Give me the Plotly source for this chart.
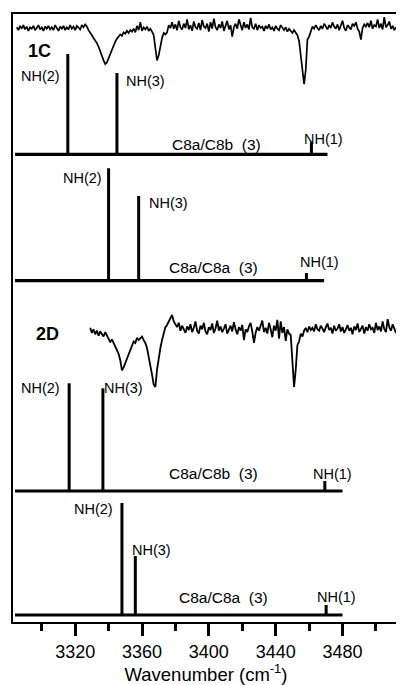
import plotly.graph_objects as go

# ---------------- data ----------------
# Experimental IR spectra (relative transmittance, baseline ~100), 1 cm-1 steps
spec_1C_start = 3285
spec_1C = [
    101, 97, 103, 99, 104, 98, 102, 96, 101, 99,      # 3285
    103, 97, 100, 104, 98, 101, 96, 102, 99, 103,     # 3295
    98, 101, 97, 104, 100, 96, 102, 99, 103, 97,      # 3305
    101, 98, 104, 99, 102, 97, 103, 100, 98, 104,     # 3315
    101, 105, 102, 97, 94, 90, 86, 83, 79, 74,        # 3325
    67, 61, 55, 50, 52, 58, 64, 71, 77, 81,           # 3335
    85, 88, 91, 89, 94, 92, 96, 93, 97, 95,           # 3345
    99, 94, 103, 97, 108, 96, 101, 98, 102, 96,       # 3355
    99, 95, 90, 72, 55, 62, 75, 86, 93, 91,           # 3365
    94, 104, 100, 108, 99, 105, 97, 110, 101, 98,     # 3375
    106, 100, 112, 98, 104, 96, 109, 101, 99, 107,    # 3385
    97, 111, 102, 100, 106, 95, 108, 99, 113, 101,    # 3395
    97, 105, 100, 109, 96, 103, 110, 98, 104, 88,     # 3405
    101, 106, 99, 112, 103, 97, 108, 100, 105, 98,    # 3415
    114, 101, 99, 106, 97, 104, 100, 102, 96, 103,    # 3425
    99, 105, 98, 101, 96, 103, 99, 97, 104, 100,      # 3435
    97, 101, 95, 99, 96, 93, 97, 94, 90, 82,          # 3445
    62, 38, 22, 42, 84, 88, 97, 102, 99, 104,         # 3455
    100, 97, 103, 99, 106, 101, 98, 104, 100, 108,    # 3465
    102, 99, 105, 97, 103, 110, 100, 96, 104, 101,    # 3475
    98, 106, 103, 108, 99, 95, 84, 100, 105, 102,     # 3485
    107, 101, 110, 99, 104, 102, 112, 100, 106, 98,   # 3495
    115, 101, 104, 109, 99, 103, 97, 101, 96,         # 3505
]

spec_2D_start = 3329
spec_2D = [
    103, 96, 101, 94, 99, 92, 98, 95, 91, 97,         # 3329
    93, 88, 83, 87, 82, 79, 74, 67, 58, 44,           # 3339
    48, 54, 61, 67, 73, 79, 84, 82, 89, 86,           # 3349
    88, 91, 86, 82, 75, 64, 51, 38, 24, 21,           # 3359
    45, 62, 75, 86, 97, 104, 107, 112, 116, 121,      # 3369
    112, 108, 104, 110, 99, 106, 101, 96, 105, 100,   # 3379
    108, 97, 103, 112, 99, 95, 106, 101, 110, 98,     # 3389
    94, 104, 100, 109, 96, 102, 113, 99, 105, 97,     # 3399
    102, 108, 95, 100, 106, 98, 111, 101, 94, 104,    # 3409
    99, 107, 86, 101, 97, 105, 110, 98, 82, 96,       # 3419
    104, 99, 108, 113, 97, 103, 95, 110, 101, 90,     # 3429
    106, 99, 114, 88, 112, 96, 104, 85, 101, 95,      # 3439
    93, 58, 21, 45, 79, 84, 95, 91, 99, 103,          # 3449
    97, 105, 100, 103, 98, 108, 101, 99, 106, 102,    # 3459
    97, 104, 109, 100, 103, 95, 106, 99, 102, 108,    # 3469
    98, 104, 96, 101, 107, 99, 103, 94, 105, 100,     # 3479
    109, 97, 102, 106, 95, 104, 99, 108, 101, 103,    # 3489
    96, 110, 100, 105, 98, 112, 101, 97, 115, 104,    # 3499
    99, 108, 102, 96, 104, 101,                       # 3509
]

# Calculated stick spectra: NH(2), NH(3), NH(1)
stick_names = ["NH(2)", "NH(3)", "NH(1)"]

calc_1C_ab_wn = [3315.6, 3345.0, 3461.4]
calc_1C_ab_int = [100.3, 81.3, 12.6]
calc_1C_ab_span = [3284, 3471]

calc_1C_aa_wn = [3340.0, 3358.0, 3458.4]
calc_1C_aa_int = [112.4, 84.7, 7.7]
calc_1C_aa_span = [3284, 3469]

calc_2D_ab_wn = [3316.4, 3336.6, 3469.4]
calc_2D_ab_int = [107.7, 102.7, 10.0]
calc_2D_ab_span = [3284, 3480]

calc_2D_aa_wn = [3348.0, 3356.0, 3470.2]
calc_2D_aa_int = [112.0, 59.0, 10.0]
calc_2D_aa_span = [3284, 3480]

x_ticks_major = [3320, 3360, 3400, 3440, 3480]

# ---------------- layout helpers ----------------
PAGE_OFF = 8                  # default body margin of the html page
W, H = 404 - PAGE_OFF, 685 - PAGE_OFF
PLOT_LEFT, PLOT_RIGHT = 12, 400       # page pixels
PLOT_TOP, PLOT_BOT = 13, 623          # page pixels
PLOT_H = PLOT_BOT - PLOT_TOP
ML = PLOT_LEFT - PAGE_OFF
MT = PLOT_TOP - PAGE_OFF
MR = W - (PLOT_RIGHT - PAGE_OFF)
MB = H - (PLOT_BOT - PAGE_OFF)
FONT = "Liberation Sans, Arial, Helvetica, sans-serif"


def frac(py):
    return (PLOT_BOT - py) / PLOT_H


def stick_axis(base_px):
    lo, hi = -6, 116
    return dict(domain=[frac(base_px - lo), frac(base_px - hi)], range=[lo, hi],
                visible=False, anchor="x", fixedrange=True)


def spec_axis(zero_px, top_px, px_per_unit=0.72):
    return dict(domain=[frac(zero_px), frac(top_px)],
                range=[0, (zero_px - top_px) / px_per_unit],
                visible=False, anchor="x", fixedrange=True)


fig = go.Figure()

wn_1C = [spec_1C_start + i for i in range(len(spec_1C))]
wn_2D = [spec_2D_start + i for i in range(len(spec_2D))]

fig.add_trace(go.Scatter(x=wn_1C, y=spec_1C, mode="lines", yaxis="y",
                         line=dict(color="black", width=1.7), hoverinfo="skip"))
fig.add_trace(go.Scatter(x=wn_2D, y=spec_2D, mode="lines", yaxis="y4",
                         line=dict(color="black", width=1.8), hoverinfo="skip"))


def add_sticks(wn, inten, span, yax):
    xs, ys = [], []
    for w, h in zip(wn, inten):
        xs += [w, w, None]
        ys += [0, h, None]
    fig.add_trace(go.Scatter(x=xs, y=ys, mode="lines", yaxis=yax,
                             line=dict(color="black", width=3), hoverinfo="skip"))
    fig.add_trace(go.Scatter(x=span, y=[0, 0], mode="lines", yaxis=yax,
                             line=dict(color="black", width=3.2), hoverinfo="skip"))


add_sticks(calc_1C_ab_wn, calc_1C_ab_int, calc_1C_ab_span, "y2")
add_sticks(calc_1C_aa_wn, calc_1C_aa_int, calc_1C_aa_span, "y3")
add_sticks(calc_2D_ab_wn, calc_2D_ab_int, calc_2D_ab_span, "y5")
add_sticks(calc_2D_aa_wn, calc_2D_aa_int, calc_2D_aa_span, "y6")

ann = []


def label(text, x, y, yref, xanchor="center", size=14.5, bold=False):
    ann.append(dict(text=f"<b>{text}</b>" if bold else text, x=x, y=y, xref="x", yref=yref,
                    xanchor=xanchor, yanchor="middle", showarrow=False,
                    font=dict(family=FONT, size=size, color="black")))


label("1C", 3298.4, 67.4, "y", size=18, bold=True)
label("2D", 3303.5, 95.1, "y4", size=18, bold=True)

# panel 1 (1C, C8a/C8b)
label(stick_names[0], 3312.0, 78.3, "y2", "right")
label(stick_names[1], 3349.0, 73.6, "y2", "left")
label(stick_names[2], 3468.5, 15.3, "y2")
label("C8a/C8b\u00a0 (3)", 3404.5, 10.0, "y2", size=15.5)
# panel 2 (1C, C8a/C8a)
label(stick_names[0], 3337.0, 102.7, "y3", "right")
label(stick_names[1], 3363.0, 77.7, "y3", "left")
label(stick_names[2], 3466.0, 18.7, "y3")
label("C8a/C8a\u00a0 (3)", 3403.0, 13.2, "y3", size=15.5)
# panel 3 (2D, C8a/C8b)
label(stick_names[0], 3312.0, 103.0, "y5", "right")
label(stick_names[1], 3336.0, 103.0, "y5", "left")
label(stick_names[2], 3474.0, 17.0, "y5")
label("C8a/C8b\u00a0 (3)", 3403.0, 17.0, "y5", size=15.5)
# panel 4 (2D, C8a/C8a)
label(stick_names[0], 3344.0, 106.0, "y6", "right")
label(stick_names[1], 3352.6, 65.0, "y6", "left")
label(stick_names[2], 3476.3, 18.0, "y6")
label("C8a/C8a\u00a0 (3)", 3409.0, 18.0, "y6", size=15.5)

fig.update_layout(
    width=W, height=H, autosize=False,
    margin=dict(l=ML, r=MR, t=MT, b=MB, pad=0, autoexpand=False),
    paper_bgcolor="white", plot_bgcolor="rgba(0,0,0,0)",
    showlegend=False,
    font=dict(family=FONT, color="black"),
    xaxis=dict(range=[3282.2, 3514.4], anchor="free", position=0, automargin=False,
               tickmode="array", tickvals=x_ticks_major,
               ticktext=[str(t) for t in x_ticks_major],
               ticks="outside", ticklen=12, tickwidth=2.5, tickcolor="black",
               minor=dict(tickmode="linear", tick0=3300, dtick=20, ticks="outside",
                          ticklen=7, tickwidth=2.5, tickcolor="black", showgrid=False),
               showline=True, linewidth=2, linecolor="black",
               showgrid=False, zeroline=False, fixedrange=True,
               tickfont=dict(family=FONT, size=18, color="black"),
               title=dict(text="Wavenumber (cm<sup>-1</sup>)", standoff=3,
                          font=dict(family=FONT, size=18.5, color="black"))),
    yaxis=spec_axis(100, PLOT_TOP),
    yaxis2=stick_axis(154.3),
    yaxis3=stick_axis(280.7),
    yaxis4=spec_axis(402, 305),
    yaxis5=stick_axis(491.0),
    yaxis6=stick_axis(615.0),
    annotations=ann,
    shapes=[dict(type="rect", xref="paper", yref="paper", x0=0, x1=1, y0=0, y1=1,
                 line=dict(color="black", width=2), layer="above")],
)

fig.write_html("out.html")
